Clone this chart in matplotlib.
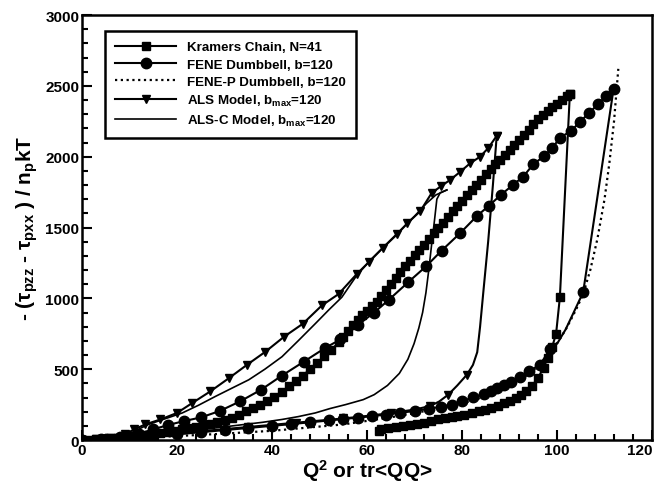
import matplotlib
matplotlib.use("Agg")
import matplotlib.pyplot as plt
from matplotlib.ticker import MultipleLocator

plt.rcParams["font.family"] = ["Liberation Sans", "DejaVu Sans"]
plt.rcParams["font.weight"] = "bold"
plt.rcParams["axes.labelweight"] = "bold"
plt.rcParams["mathtext.fontset"] = "custom"
plt.rcParams["mathtext.rm"] = "Liberation Sans:bold"
plt.rcParams["mathtext.it"] = "Liberation Sans:bold"
plt.rcParams["mathtext.bf"] = "Liberation Sans:bold"

x_ticks = [0, 20, 40, 60, 80, 100, 120]
y_ticks = [0, 500, 1000, 1500, 2000, 2500, 3000]

# Kramers chain, N=41 (squares): stretching branch, then relaxation branch
kr_up_x = [0, 1.5, 3, 4.5, 6, 7.5, 9, 10.5, 12, 13.5, 15, 16.5, 18, 19.5, 21, 22.5, 24, 25.5,
           27, 28.5, 30, 31.5, 33, 34.5, 36, 37.5, 39, 40.5, 42, 43.5, 45, 46.5, 48, 49.5,
           51, 52.5, 54, 55, 56, 57, 58, 59, 60, 61, 62, 63, 64, 65, 66, 67, 68, 69, 70,
           71, 72, 73, 74, 75, 76, 77, 78, 79, 80, 81, 82, 83, 84, 85, 86, 87, 88, 89, 90,
           91, 92, 93, 94, 95, 96, 97, 98, 99, 100, 101, 102, 102.7]
kr_up_y = [0, 3, 6, 9, 12, 16, 20, 25, 30, 36, 43, 50, 58, 66, 75, 85, 95, 105,
           113, 125, 140, 158, 180, 205, 228, 250, 278, 305, 340, 378, 415, 455, 500, 545,
           590, 635, 690, 730, 770, 810, 845, 880, 910, 945, 975, 1015, 1060, 1100, 1145, 1185, 1225, 1265, 1305,
           1340, 1380, 1420, 1460, 1500, 1535, 1575, 1615, 1655, 1690, 1730, 1765, 1800, 1835, 1875, 1910, 1945, 1980, 2015, 2050,
           2085, 2120, 2155, 2190, 2230, 2265, 2295, 2325, 2350, 2375, 2400, 2425, 2445]
kr_dn_x = [102.7, 100.6, 99.8, 99, 98, 97.2, 96, 94.7, 93.5, 92.5, 91.3, 90, 88.8, 87.5, 86,
           84.8, 83.5, 82, 80.5, 79, 77.8, 76.5, 75, 73.5, 72, 70.5, 69, 67.5, 66, 64.5, 63, 62.5]
kr_dn_y = [2445, 1008, 750, 660, 580, 510, 440, 378, 345, 320, 295, 273, 258, 242, 226,
           215, 205, 192, 180, 170, 162, 154, 145, 133, 122, 113, 105, 98, 92, 88, 80, 62]

# FENE dumbbell, b=120 (circles)
fene_up_x = [0, 4, 8, 12, 15, 18, 21.4, 25.1, 29, 33.3, 37.7, 42.1, 46.7, 51.2, 54.4, 58,
             61.5, 64.6, 68.7, 72.5, 75.7, 79.6, 83.1, 85.7, 88.2, 90.8, 92.9, 95, 97.3, 99,
             100.6, 102.9, 104.8, 106.8, 108.7, 110.4, 111.9]
fene_up_y = [0, 8, 20, 45, 75, 105, 133, 160, 205, 273, 355, 455, 553, 650, 710, 810,
             900, 990, 1115, 1228, 1337, 1460, 1580, 1655, 1731, 1803, 1860, 1946, 2005, 2060,
             2134, 2180, 2245, 2310, 2373, 2430, 2478]
fene_dn_x = [111.9, 105.5, 103.5, 101.8, 100.2, 98.5, 96.4, 94.2, 92.3, 90.4, 88.8, 87.3, 86,
             84.6, 82.4, 79.9, 77.8, 75.5, 73, 70, 67, 64, 61, 58, 55, 52, 48, 44, 40, 35,
             30, 25, 20, 15, 10, 5, 0]
fene_dn_y = [2478, 1043, 900, 780, 690, 640, 530, 488, 445, 406, 385, 366, 345,
             327, 301, 273, 250, 235, 220, 205, 192, 180, 168, 158, 148, 138, 125, 112, 100, 85,
             70, 55, 40, 28, 17, 8, 0]

# FENE-P dumbbell, b=120 (dotted, single curve)
fenep_x = [0, 10, 20, 30, 40, 50, 55, 60, 65, 70, 75, 80, 85, 90, 93, 96, 98, 100, 102, 104,
           105.5, 107, 108.5, 110, 111, 112, 112.9]
fenep_y = [0, 12, 28, 45, 65, 95, 110, 135, 160, 190, 222, 258, 308, 378, 440, 520, 600, 680,
           790, 920, 1030, 1200, 1420, 1700, 1950, 2250, 2620]

# ALS model, bmax=120 (triangles)
als_up_x = [0, 3, 6, 9, 11, 13.3, 16.5, 20, 23.2, 27, 30.9, 34.7, 38.6, 42.5, 46.5, 50.5, 54,
            57.8, 60.5, 63.4, 66.3, 68.5, 71.2, 73.6, 75.5, 77.5, 79.5, 81.7, 83.8, 85.5, 87.3]
als_up_y = [0, 5, 15, 40, 75, 110, 145, 191, 261, 343, 436, 530, 623, 728, 821, 950, 1030,
            1170, 1260, 1358, 1451, 1530, 1615, 1743, 1790, 1836, 1890, 1953, 2000, 2060, 2147]
als_dn_x = [87.3, 86.5, 85.5, 84.5, 83.8, 83.2, 82.3, 81, 79, 77.1, 75.2, 73.3, 70, 65, 60,
            55, 50, 45, 40, 35, 30, 25, 20, 15, 10, 5, 0]
als_dn_y = [2147, 1800, 1400, 1050, 800, 620, 530, 460, 385, 320, 272, 240, 215, 190, 170,
            152, 137, 122, 107, 92, 77, 62, 47, 33, 20, 9, 0]

# ALS-C model, bmax=120 (thin line)
alsc_up_x = [0, 5, 10, 14, 17.5, 21.1, 24.5, 28.1, 31.5, 35.1, 38.5, 42.1, 45.5, 49.1, 52,
             54.7, 57.8, 61, 64, 67, 70, 72.5, 74.5, 76.8]
alsc_up_y = [0, 12, 45, 110, 150, 191, 245, 308, 365, 425, 500, 588, 700, 821, 920,
             1008, 1160, 1280, 1380, 1480, 1580, 1670, 1730, 1765]
alsc_dn_x = [76.8, 75.4, 74.7, 74.2, 73.6, 73, 72.4, 71.7, 70.9, 69.9, 68.6, 66.8, 64.3, 61.5,
             59.2, 55.5, 52.2, 49.1, 45.5, 42.1, 38, 33, 28, 22, 16, 10, 5, 0]
alsc_dn_y = [1765, 1745, 1700, 1550, 1380, 1200, 1040, 900, 790, 680, 570, 470, 385, 320,
             285, 250, 222, 191, 165, 145, 125, 105, 85, 62, 40, 22, 10, 0]

fig = plt.figure(figsize=(6.54, 4.85), dpi=100)
ax = fig.add_axes([0.1254, 0.0907, 0.8716, 0.8763])

lw = 1.5
ax.plot(kr_up_x, kr_up_y, "k-", lw=lw, marker="s", ms=5.5, label="Kramers Chain, N=41")
ax.plot(kr_dn_x, kr_dn_y, "k-", lw=lw, marker="s", ms=5.5)
ax.plot(fene_up_x, fene_up_y, "k-", lw=lw, marker="o", ms=7.5, label="FENE Dumbbell, b=120")
ax.plot(fene_dn_x, fene_dn_y, "k-", lw=lw, marker="o", ms=7.5,
        markevery=[1] + list(range(5, len(fene_dn_x))))
ax.plot(fenep_x, fenep_y, "k", ls=(0, (1, 1.6)), lw=1.6, label="FENE-P Dumbbell, b=120")
ax.plot(als_up_x, als_up_y, "k-", lw=lw, marker="v", ms=6, label="ALS Model, b$_{max}$=120")
ax.plot(als_dn_x, als_dn_y, "k-", lw=lw, marker="v", ms=6,
        markevery=[0] + list(range(7, len(als_dn_x), 2)))
ax.plot(alsc_up_x, alsc_up_y, "k-", lw=1.2, label="ALS-C Model, b$_{max}$=120")
ax.plot(alsc_dn_x, alsc_dn_y, "k-", lw=1.2)

ax.set_xlim(0, 120)
ax.set_ylim(0, 3000)
ax.set_xticks(x_ticks, [str(v) for v in x_ticks])
ax.set_yticks(y_ticks, [str(v) for v in y_ticks])
ax.get_xticklabels()[-1].set_horizontalalignment("right")
ax.xaxis.set_minor_locator(MultipleLocator(4))
ax.yaxis.set_minor_locator(MultipleLocator(100))
ax.tick_params(which="both", direction="in", top=False, right=False, width=1.5, labelsize=11)
ax.tick_params(which="major", length=7, pad=2)
ax.tick_params(which="minor", length=4)
for s in ax.spines.values():
    s.set_linewidth(1.8)

ax.set_xlabel("Q$^2$ or tr<QQ>", fontsize=15, fontweight="bold", labelpad=0)
ax.set_ylabel(r"- ($\tau_{pzz}$ - $\tau_{pxx}$ ) / n$_p$kT", fontsize=15, fontweight="bold", labelpad=4)

leg = ax.legend(loc="upper left", bbox_to_anchor=(0.0404, 0.962), borderaxespad=0,
                fontsize=9.6, handlelength=4.6, handletextpad=0.8, labelspacing=0.36,
                borderpad=0.75, fancybox=False, framealpha=1, edgecolor="black")
leg.get_frame().set_linewidth(1.8)

fig.savefig("out.png", dpi=100)
